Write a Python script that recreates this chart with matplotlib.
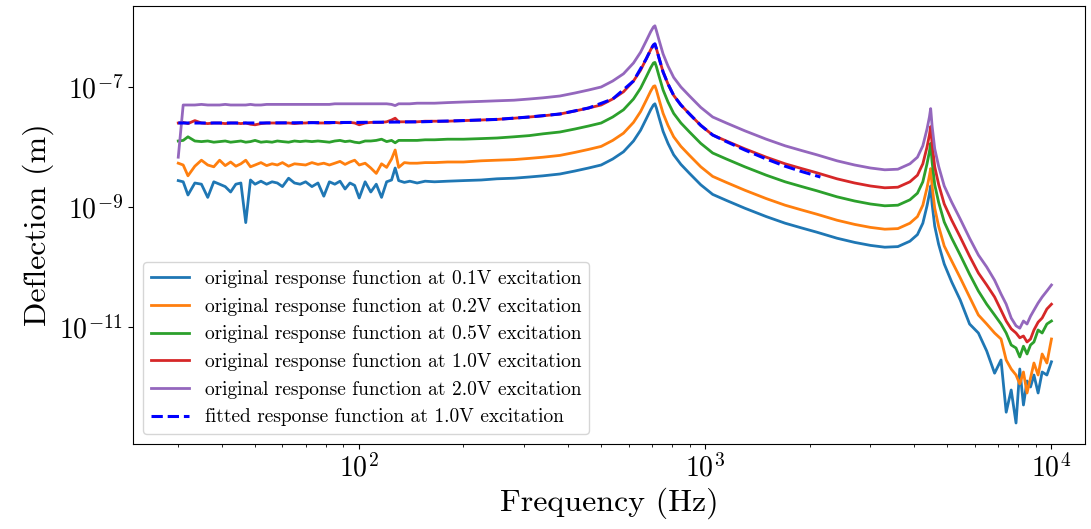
import numpy as np
import matplotlib
matplotlib.use("Agg")
import matplotlib.pyplot as plt
from matplotlib.ticker import FixedLocator, NullLocator, FuncFormatter

plt.rcParams['font.family'] = ['cmr10', 'DejaVu Serif']
plt.rcParams['mathtext.fontset'] = 'cm'
plt.rcParams['axes.formatter.use_mathtext'] = True

# frequency grid (Hz)
freq = [30, 31, 32, 33.5, 35, 36.5, 38, 39.5, 41, 42.5, 44, 45.5, 47, 48.5, 50,
        52, 54, 56, 58, 60, 62.5, 65, 67.5, 70, 73, 76, 79, 82, 85, 88, 91, 94,
        97, 100, 104, 108, 112, 116, 120, 124, 127, 130, 135, 140, 147, 155,
        165, 180, 200, 225, 250, 280, 310,
        340, 380, 420, 460, 500, 540, 580, 620, 650, 675, 695, 708, 715, 722,
        735, 755, 780, 810, 850, 900, 970, 1050, 1150, 1300, 1500, 1700, 1900,
        2100, 2400, 2700, 3000, 3300, 3600, 3900, 4100, 4250, 4370, 4440, 4477,
        4520, 4600, 4720, 4900, 5150, 5450, 5800, 6150, 6500, 6850, 7150, 7400,
        7650, 7900, 8100, 8300, 8500, 8700, 8900, 9150, 9400, 9700, 10000]

# log10 of deflection (m) for each excitation
resp_01 = [-8.56, -8.58, -8.80, -8.60, -8.62, -8.84, -8.58, -8.62, -8.66, -8.75,
           -8.62, -8.60, -9.26, -8.55, -8.62, -8.57, -8.62, -8.58, -8.60, -8.66,
           -8.52, -8.60, -8.62, -8.58, -8.66, -8.60, -8.82, -8.58, -8.62, -8.57,
           -8.70, -8.60, -8.64, -8.85, -8.58, -8.75, -8.62, -8.84, -8.58, -8.55,
           -8.35, -8.56, -8.59, -8.57, -8.60, -8.57, -8.58, -8.57, -8.56, -8.55,
           -8.53, -8.52, -8.50,
           -8.48, -8.45, -8.40, -8.35, -8.30, -8.20, -8.08, -7.90, -7.72, -7.53,
           -7.38, -7.30, -7.28, -7.35, -7.51, -7.74, -7.94, -8.13, -8.29, -8.44,
           -8.63, -8.79, -8.89, -9.02, -9.16, -9.27, -9.35, -9.42, -9.52, -9.59,
           -9.64, -9.67, -9.66, -9.57, -9.46, -9.27, -8.98, -8.78, -8.65, -8.95,
           -9.32, -9.62, -9.95, -10.25, -10.55, -10.95, -11.10, -11.40, -11.77,
           -11.55, -12.42, -12.05, -12.60, -11.70, -12.30, -11.90, -12.00, -11.80,
           -12.10, -11.75, -11.80, -11.58]

resp_02 = [-8.27, -8.30, -8.48, -8.32, -8.22, -8.30, -8.33, -8.22, -8.31, -8.25,
           -8.32, -8.28, -8.22, -8.33, -8.30, -8.26, -8.31, -8.28, -8.30, -8.26,
           -8.32, -8.28, -8.29, -8.30, -8.26, -8.29, -8.27, -8.30, -8.27, -8.24,
           -8.29, -8.25, -8.22, -8.30, -8.27, -8.35, -8.44, -8.28, -8.34, -8.20,
           -8.05, -8.34, -8.26, -8.27, -8.27, -8.26, -8.26, -8.25, -8.25, -8.23,
           -8.22, -8.21, -8.19,
           -8.17, -8.14, -8.09, -8.04, -7.99, -7.89, -7.77, -7.59, -7.41, -7.22,
           -7.07, -6.99, -6.98, -7.05, -7.21, -7.44, -7.64, -7.83, -7.99, -8.14,
           -8.33, -8.49, -8.59, -8.72, -8.86, -8.97, -9.05, -9.12, -9.22, -9.29,
           -9.34, -9.37, -9.36, -9.27, -9.16, -8.97, -8.68, -8.48, -8.36, -8.65,
           -9.02, -9.32, -9.65, -9.90, -10.18, -10.50, -10.80, -10.95, -11.10,
           -11.20, -11.55, -11.70, -11.80, -11.95, -11.75, -12.10, -11.85, -11.60,
           -11.80, -11.45, -11.60, -11.20]

resp_05 = [-7.90, -7.89, -7.83, -7.90, -7.91, -7.90, -7.92, -7.91, -7.90, -7.92,
           -7.91, -7.90, -7.92, -7.91, -7.89, -7.92, -7.91, -7.92, -7.90, -7.91,
           -7.92, -7.90, -7.91, -7.90, -7.91, -7.90, -7.91, -7.92, -7.90, -7.89,
           -7.91, -7.90, -7.92, -7.93, -7.90, -7.90, -7.89, -7.87, -7.91, -7.89,
           -7.93, -7.89, -7.89, -7.89, -7.89, -7.88, -7.88, -7.87, -7.87, -7.86,
           -7.85, -7.83, -7.81,
           -7.78, -7.75, -7.70, -7.65, -7.60, -7.50, -7.38, -7.20, -7.02, -6.83,
           -6.68, -6.60, -6.59, -6.66, -6.82, -7.05, -7.25, -7.44, -7.60, -7.75,
           -7.94, -8.10, -8.20, -8.33, -8.47, -8.58, -8.66, -8.73, -8.83, -8.90,
           -8.95, -8.98, -8.97, -8.88, -8.77, -8.58, -8.28, -8.08, -7.94, -8.25,
           -8.63, -8.92, -9.25, -9.52, -9.80, -10.12, -10.40, -10.62, -10.80,
           -10.95, -11.10, -11.30, -11.35, -11.50, -11.32, -11.45, -11.30, -11.25,
           -11.05, -11.10, -10.95, -10.90]

resp_10 = [-7.60, -7.59, -7.61, -7.56, -7.60, -7.61, -7.60, -7.60, -7.61, -7.60,
           -7.60, -7.61, -7.60, -7.62, -7.63, -7.61, -7.60, -7.60, -7.60, -7.60,
           -7.60, -7.61, -7.60, -7.60, -7.59, -7.60, -7.60, -7.60, -7.59, -7.60,
           -7.59, -7.59, -7.60, -7.63, -7.60, -7.59, -7.59, -7.59, -7.58, -7.55,
           -7.52, -7.58, -7.58, -7.58, -7.58, -7.57, -7.57, -7.57, -7.56, -7.55,
           -7.54, -7.52, -7.50,
           -7.48, -7.45, -7.40, -7.35, -7.30, -7.20, -7.08, -6.90, -6.72, -6.53,
           -6.38, -6.30, -6.29, -6.36, -6.52, -6.75, -6.95, -7.14, -7.30, -7.45,
           -7.64, -7.80, -7.90, -8.03, -8.17, -8.28, -8.36, -8.43, -8.53, -8.60,
           -8.65, -8.68, -8.67, -8.58, -8.47, -8.28, -8.00, -7.80, -7.66, -7.95,
           -8.33, -8.62, -8.95, -9.22, -9.50, -9.82, -10.10, -10.30, -10.50,
           -10.72, -10.90, -11.03, -11.10, -11.18, -11.15, -11.25, -11.20, -11.05,
           -10.92, -10.85, -10.70, -10.62]

resp_20 = [-8.17, -7.30, -7.30, -7.30, -7.29, -7.30, -7.30, -7.30, -7.29, -7.30,
           -7.30, -7.30, -7.30, -7.29, -7.30, -7.30, -7.29, -7.29, -7.29, -7.29,
           -7.29, -7.29, -7.29, -7.29, -7.29, -7.29, -7.29, -7.29, -7.28, -7.28,
           -7.28, -7.28, -7.28, -7.28, -7.28, -7.28, -7.28, -7.28, -7.28, -7.29,
           -7.31, -7.28, -7.28, -7.28, -7.27, -7.27, -7.27, -7.26, -7.25, -7.24,
           -7.23, -7.22, -7.20,
           -7.18, -7.15, -7.10, -7.05, -7.00, -6.90, -6.78, -6.60, -6.42, -6.23,
           -6.08, -6.00, -5.98, -6.06, -6.22, -6.45, -6.65, -6.84, -7.00, -7.15,
           -7.34, -7.50, -7.60, -7.73, -7.87, -7.98, -8.06, -8.13, -8.23, -8.30,
           -8.35, -8.38, -8.37, -8.28, -8.17, -7.98, -7.70, -7.50, -7.36, -7.65,
           -8.03, -8.32, -8.65, -8.92, -9.20, -9.52, -9.80, -10.00, -10.22,
           -10.45, -10.62, -10.85, -10.98, -11.02, -10.90, -10.95, -10.82, -10.72,
           -10.60, -10.50, -10.40, -10.30]

# fitted model for 1.0V
fit_freq = [30, 50, 100, 150, 200, 250, 310, 380, 460, 540, 620, 675, 695, 708,
            715, 722, 735, 755, 780, 810, 850, 900, 970, 1050, 1150, 1300, 1500,
            1700, 1900, 2150]
fit_10 = [-7.60, -7.60, -7.59, -7.58, -7.56, -7.54, -7.50, -7.45, -7.35, -7.20,
          -6.90, -6.53, -6.38, -6.30, -6.28, -6.36, -6.52, -6.75, -6.95, -7.14,
          -7.30, -7.45, -7.64, -7.80, -7.91, -8.05, -8.20, -8.32, -8.41, -8.50]

voltages = ['0.1', '0.2', '0.5', '1.0', '2.0']
curves = [resp_01, resp_02, resp_05, resp_10, resp_20]

fig = plt.figure(figsize=(10.91, 5.29), dpi=100)
ax = fig.add_axes([133/1091, 1 - 444/529, (1085 - 133)/1091, (444 - 6)/529])

for v, c in zip(voltages, curves):
    ax.plot(freq, 10**np.array(c), lw=2,
            label='original response function at %sV excitation' % v)
ax.plot(fit_freq, 10**np.array(fit_10), 'b--', lw=2.2,
        label='fitted response function at 1.0V excitation')

ax.set_xscale('log')
ax.set_yscale('log')
ax.set_xlim(22.2, 12500)
ax.set_ylim(10**-12.95, 10**-5.65)

ax.yaxis.set_major_locator(FixedLocator([1e-11, 1e-9, 1e-7]))
ax.yaxis.set_minor_locator(NullLocator())
ax.xaxis.set_major_locator(FixedLocator([1e2, 1e3, 1e4]))
logfmt = FuncFormatter(lambda v, p: r'$10^{%d}$' % round(np.log10(v)))
ax.xaxis.set_major_formatter(logfmt)
ax.yaxis.set_major_formatter(logfmt)
ax.tick_params(labelsize=20)

ax.set_xlabel('Frequency (Hz)', fontsize=23)
ax.set_ylabel('Deflection (m)', fontsize=23)
ax.legend(loc='lower left', fontsize=14)

fig.savefig('out.png', dpi=100)
